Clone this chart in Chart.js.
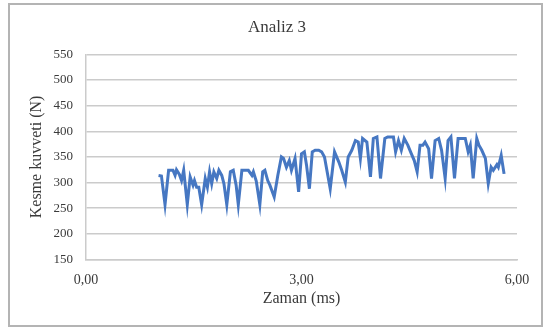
<!DOCTYPE html>
<html>
<head>
<meta charset="utf-8">
<script src="https://cdn.jsdelivr.net/npm/chart.js@4/dist/chart.umd.min.js"></script>
<style>
    html, body { margin: 0; padding: 0; background: #fff; }
    #wrap { position: relative; width: 544px; height: 327px; }
    #frame { position: absolute; left: 8px; top: 3px; width: 531px; height: 320px; border: 2px solid #b4b4b4; pointer-events: none; }
</style>
</head>
<body>
<div id="wrap">
    <canvas id="chart" width="544" height="327"></canvas>
    <div id="frame"></div>
</div>
<script>
    // Zaman (ms) / kesme kuvveti (N) ölçümleri
    const times = [1.01, 1.05, 1.10, 1.15, 1.21, 1.24, 1.26, 1.30, 1.33, 1.36, 1.41, 1.45, 1.49, 1.51, 1.54, 1.57, 1.61, 1.66, 1.69, 1.72,
        1.75, 1.78, 1.82, 1.85, 1.89, 1.92, 1.96, 2.01, 2.05, 2.09, 2.12, 2.17, 2.21, 2.26, 2.31, 2.33, 2.37, 2.42, 2.46, 2.49,
        2.53, 2.56, 2.62, 2.67, 2.72, 2.75, 2.79, 2.83, 2.86, 2.91, 2.96, 3.00, 3.04, 3.07, 3.11, 3.15, 3.19, 3.24, 3.28, 3.32,
        3.40, 3.46, 3.52, 3.56, 3.61, 3.65, 3.70, 3.75, 3.79, 3.82, 3.85, 3.91, 3.96, 4.00, 4.05, 4.10, 4.16, 4.20, 4.25, 4.28,
        4.31, 4.35, 4.39, 4.43, 4.48, 4.53, 4.57, 4.61, 4.65, 4.69, 4.72, 4.77, 4.81, 4.86, 4.91, 4.95, 5.00, 5.04, 5.08, 5.13,
        5.18, 5.23, 5.28, 5.32, 5.35, 5.39, 5.44, 5.47, 5.51, 5.56, 5.60, 5.64, 5.67, 5.72, 5.74, 5.78, 5.82];
    const forces = [314, 313, 257, 324, 324, 314, 325, 316, 304, 324, 257, 311, 295, 304, 291, 291, 257, 308, 291, 321,
        298, 321, 308, 324, 314, 298, 257, 321, 324, 295, 257, 324, 324, 324, 314, 321, 303, 257, 321, 324,
        304, 295, 272, 314, 350, 347, 330, 343, 324, 347, 282, 356, 360, 334, 288, 360, 363, 363, 360, 350,
        288, 360, 340, 324, 301, 350, 363, 382, 379, 347, 386, 379, 311, 386, 389, 308, 386, 389, 389, 389,
        360, 382, 363, 386, 373, 356, 343, 321, 373, 373, 379, 366, 308, 382, 386, 363, 308, 382, 389, 308,
        386, 386, 386, 360, 373, 308, 386, 373, 363, 347, 298, 330, 324, 335, 330, 353, 317];

    const xTicks = [0, 3, 6];
    const yMin = 150, yMax = 550, yStep = 50;

    const serif = '"Liberation Serif", "DejaVu Serif", serif';
    const textColor = '#3a3a3a';
    const gridColor = '#cbcbcb';

    const points = times.map((t, i) => ({ x: t, y: forces[i] }));

    new Chart(document.getElementById('chart'), {
        type: 'scatter',
        data: {
            datasets: [{
                data: points,
                showLine: true,
                borderColor: '#4677c2',
                borderWidth: 3,
                pointRadius: 0,
                tension: 0
            }]
        },
        options: {
            responsive: false,
            animation: false,
            layout: { padding: { left: 10, right: 0, top: 0, bottom: 0 } },
            plugins: {
                legend: { display: false },
                tooltip: { enabled: false },
                title: {
                    display: true,
                    text: 'Analiz 3',
                    color: textColor,
                    font: { family: serif, size: 17, weight: 'normal' },
                    padding: { top: 17, bottom: 17 }
                }
            },
            scales: {
                x: {
                    type: 'linear',
                    min: xTicks[0],
                    max: xTicks[xTicks.length - 1],
                    afterBuildTicks: s => { s.ticks = xTicks.map(v => ({ value: v })); },
                    grid: { display: false, drawTicks: false },
                    border: { display: true, color: gridColor, width: 1.5 },
                    ticks: {
                        color: textColor,
                        font: { family: serif, size: 14 },
                        padding: 12,
                        maxRotation: 0,
                        callback: v => v.toFixed(2).replace('.', ',')
                    },
                    title: {
                        display: true,
                        text: 'Zaman (ms)',
                        color: textColor,
                        font: { family: serif, size: 16 },
                        padding: { top: 0, bottom: 19 }
                    },
                    afterFit: s => { s.height = 67.5; }
                },
                y: {
                    min: yMin,
                    max: yMax,
                    ticks: {
                        stepSize: yStep,
                        color: textColor,
                        font: { family: serif, size: 13 },
                        padding: 13
                    },
                    grid: { color: gridColor, lineWidth: 1.5, drawTicks: false },
                    border: { display: true, color: gridColor, width: 1.5 },
                    title: {
                        display: true,
                        text: 'Kesme kuvveti (N)',
                        color: textColor,
                        font: { family: serif, size: 16 },
                        padding: { top: 17, bottom: 0 }
                    },
                    afterFit: s => { s.width = 76; }
                },
                // empty right-hand strip that keeps the plot edge inside the frame
                yRight: {
                    position: 'right',
                    grid: { display: false, drawTicks: false },
                    border: { display: false },
                    ticks: { display: false },
                    afterFit: s => { s.width = 27; }
                }
            }
        }
    });
</script>
</body>
</html>
